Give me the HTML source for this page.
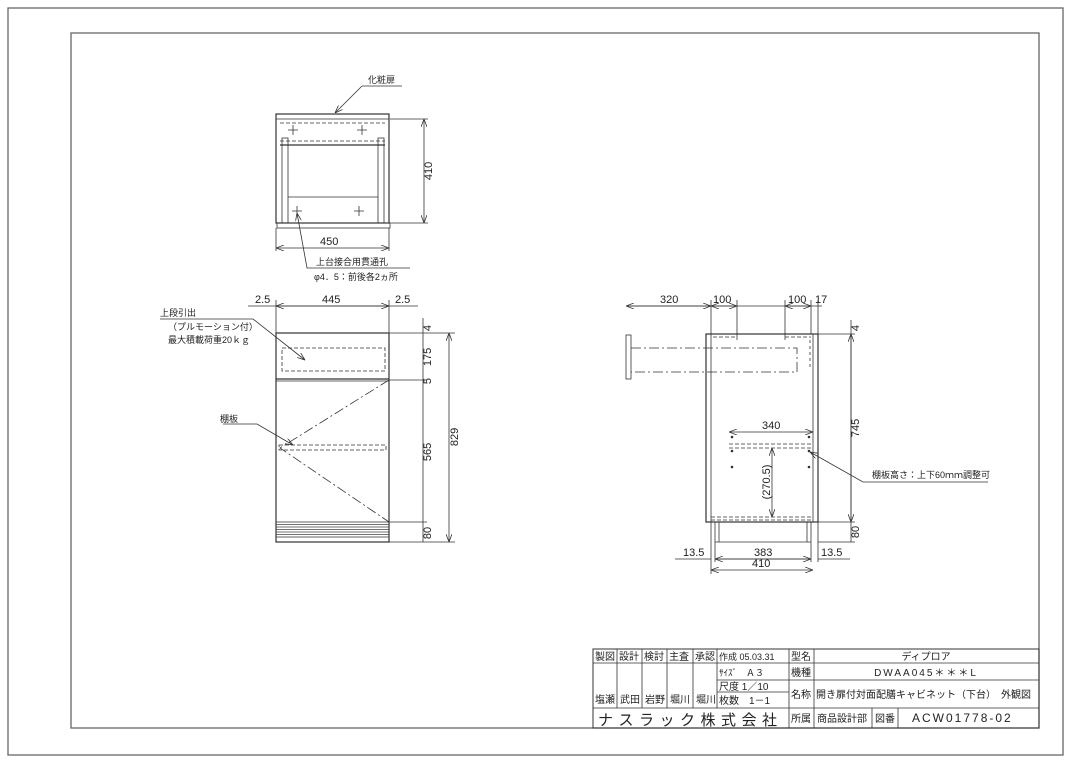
<!DOCTYPE html>
<html><head><meta charset="utf-8"><style>
html,body{margin:0;padding:0;background:#fff}
svg{display:block}
text{font-family:"Liberation Sans","Noto Sans CJK JP",sans-serif;fill:#222}
</style></head><body>
<svg width="1080" height="764" viewBox="0 0 1080 764" xmlns="http://www.w3.org/2000/svg">
<g fill="none" stroke="#666" stroke-width="1.3">
<rect x="8" y="8" width="1055" height="747"/>
<rect x="71" y="33" width="968" height="695"/>
</g>
<defs><marker id="a" markerWidth="8" markerHeight="6" refX="8" refY="3" orient="auto-start-reverse" markerUnits="userSpaceOnUse"><path d="M0,0 L8,3 L0,6" fill="none" stroke="#333" stroke-width="0.8"/></marker></defs>
<g stroke="#333" stroke-width="0.8" fill="none">
<!-- TOP VIEW -->
<rect x="276" y="114" width="113" height="109" stroke-width="1.2"/>
<line x1="276" y1="119" x2="389" y2="119"/>
<rect x="277" y="223" width="113" height="5"/>
<line x1="280" y1="123" x2="385" y2="123" stroke-dasharray="4,2"/>
<line x1="280" y1="141" x2="385" y2="141" stroke-dasharray="4,2"/>
<line x1="280" y1="145" x2="385" y2="145" stroke-width="1.2"/>
<rect x="282" y="138" width="6" height="85"/>
<rect x="378" y="138" width="6" height="85"/>
<line x1="288" y1="197" x2="378" y2="197"/>
<path d="M293,125v10M288,130h10M362,125v10M357,130h10M297,206v10M292,211h10M359,206v10M354,211h10"/>
<path d="M362,86H402M362,86L335,113" marker-end="url(#a)"/>
<path d="M410,268H307L297,213" marker-end="url(#a)"/>
<path d="M390,119H428M390,223H428M276,228V251M389,228V251"/>
<line x1="424" y1="119" x2="424" y2="223" marker-start="url(#a)" marker-end="url(#a)"/>
<line x1="276" y1="248" x2="389" y2="248" marker-start="url(#a)" marker-end="url(#a)"/>
<!-- FRONT VIEW -->
<rect x="276" y="333" width="113" height="209" stroke-width="1.2"/>
<line x1="276" y1="379" x2="389" y2="379" stroke-width="1.2"/>
<line x1="276" y1="381" x2="389" y2="381"/>
<line x1="276" y1="522" x2="389" y2="522"/>
<path d="M276,524.5H389M276,527H389M276,529.5H389M276,532H389M276,534.5H389" stroke-width="0.8" stroke="#444"/>
<line x1="276" y1="537" x2="389" y2="537"/>
<rect x="282" y="348" width="103" height="23" stroke-dasharray="4,2"/>
<rect x="279" y="445" width="107" height="5" stroke-dasharray="4,2"/>
<path d="M389,380L280,448L389,522" stroke-dasharray="10,3,2,3"/>
<path d="M248,306H418M276,300V333M389,300V333"/>
<line x1="276" y1="306" x2="389" y2="306" marker-start="url(#a)" marker-end="url(#a)"/>
<path d="M160,319H253L305,360" marker-end="url(#a)"/>
<path d="M223,424H257L293,445" marker-end="url(#a)"/>
<path d="M389,333H455M389,380H427M389,522H427M389,542H455"/>
<line x1="423" y1="318" x2="423" y2="542"/>
<line x1="449" y1="333" x2="449" y2="542" marker-start="url(#a)" marker-end="url(#a)"/>
<!-- SIDE VIEW -->
<rect x="706" y="334" width="112" height="188" stroke-width="1.2"/>
<line x1="711" y1="334" x2="711" y2="522"/>
<line x1="813" y1="334" x2="813" y2="522"/>
<path d="M715,522V542M719,522V542M807,522V542M811,522V542M715,542H811" />
<path d="M711,517H813M711,520H813" stroke-dasharray="4,2"/>
<path d="M713,337H737M785,337H811" stroke-dasharray="4,2"/>
<rect x="626" y="335" width="5" height="44"/>
<path d="M631,348H797V372H631" stroke-dasharray="10,3,2,3"/>
<path d="M729,444H813M729,448H813" stroke-dasharray="4,2"/>
<path d="M810,340V370" stroke-dasharray="3,3"/>
<path d="M626,306H822M711,300V334M737,300V340M785,300V340M811,300V334M818,300V334"/>
<line x1="626" y1="306" x2="711" y2="306" marker-start="url(#a)" marker-end="url(#a)"/>
<line x1="711" y1="306" x2="737" y2="306" marker-start="url(#a)" marker-end="url(#a)"/>
<line x1="785" y1="306" x2="811" y2="306" marker-start="url(#a)" marker-end="url(#a)"/>
<path d="M818,334H855M818,522H855M818,542H855"/>
<line x1="851" y1="320" x2="851" y2="542"/>
<line x1="851" y1="334" x2="851" y2="522" marker-start="url(#a)" marker-end="url(#a)"/>
<line x1="729" y1="432" x2="813" y2="432" marker-start="url(#a)" marker-end="url(#a)"/>
<line x1="772" y1="448" x2="772" y2="517" marker-start="url(#a)" marker-end="url(#a)"/>
<path d="M988,482H863L810,452" marker-end="url(#a)"/>
<path d="M711,522V574M715,542V562M811,542V562M818,522V562"/>
<path d="M675,559H711M715,559H811M818,559H850"/>
<line x1="715" y1="559" x2="811" y2="559" marker-start="url(#a)" marker-end="url(#a)"/>
<line x1="711" y1="570" x2="813" y2="570" marker-start="url(#a)" marker-end="url(#a)"/>
</g>
<g fill="#333"><circle cx="732" cy="437" r="1.3"/><circle cx="809" cy="437" r="1.3"/><circle cx="732" cy="451" r="1.3"/><circle cx="809" cy="451" r="1.3"/><circle cx="732" cy="467" r="1.3"/><circle cx="809" cy="467" r="1.3"/></g>
<g font-size="11">
<text x="368" y="83" font-size="9">化粧扉</text>
<text x="320" y="245">450</text>
<text transform="translate(432,171) rotate(-90)" text-anchor="middle">410</text>
<text x="316" y="265" font-size="9">上台接合用貫通孔</text>
<text x="314" y="280" font-size="9">φ4．5：前後各2ヵ所</text>
<text x="255" y="303">2.5</text><text x="322" y="303">445</text><text x="395" y="303">2.5</text>
<text x="160" y="316" font-size="9">上段引出</text>
<text x="168" y="330" font-size="9">（プルモーション付）</text>
<text x="168" y="343" font-size="9">最大積載荷重20ｋｇ</text>
<text x="220" y="422" font-size="9">棚板</text>
<text transform="translate(431,328) rotate(-90)" text-anchor="middle">4</text>
<text transform="translate(431,357) rotate(-90)" text-anchor="middle">175</text>
<text transform="translate(431,381) rotate(-90)" text-anchor="middle">5</text>
<text transform="translate(431,452) rotate(-90)" text-anchor="middle">565</text>
<text transform="translate(431,533) rotate(-90)" text-anchor="middle">80</text>
<text transform="translate(458,437) rotate(-90)" text-anchor="middle">829</text>
<text x="660" y="303">320</text><text x="713" y="303">100</text><text x="788" y="303">100</text><text x="815" y="303">17</text>
<text transform="translate(859,328) rotate(-90)" text-anchor="middle">4</text>
<text transform="translate(859,428) rotate(-90)" text-anchor="middle">745</text>
<text transform="translate(859,532) rotate(-90)" text-anchor="middle">80</text>
<text x="762" y="429">340</text>
<text transform="translate(770,482) rotate(-90)" text-anchor="middle">(270.5)</text>
<text x="872" y="478" font-size="9">棚板高さ：上下60ｍｍ調整可</text>
<text x="683" y="556">13.5</text><text x="754" y="556">383</text><text x="752" y="567">410</text><text x="821" y="556">13.5</text>
</g>
<!-- TITLE BLOCK -->
<g stroke="#333" stroke-width="0.8" fill="none">
<rect x="593" y="649" width="446" height="79" stroke-width="1"/>
<path d="M593,663H810M593,708H1039M717,680H1039M717,692H789M789,663H1039"/>
<path d="M617,649V708M642,649V708M667,649V708M693,649V708M717,649V708M789,649V728M814,649V708M814,708V728M872,708V728M898,708V728"/>
</g>
<g font-size="10">
<text x="595" y="660">製図</text><text x="619" y="660">設計</text><text x="644" y="660">検討</text><text x="669" y="660">主査</text><text x="695" y="660">承認</text>
<text x="719" y="660" font-size="9">作成 05.03.31</text>
<text x="719" y="676" font-size="9">ｻｲｽﾞ　Ａ３</text>
<text x="719" y="690">尺度 1／10</text>
<text x="719" y="704">枚数　1－1</text>
<text x="595" y="703">塩瀬</text><text x="620" y="703">武田</text><text x="645" y="703">岩野</text><text x="670" y="703">堀川</text><text x="696" y="703">堀川</text>
<text x="598" y="725" font-size="15" letter-spacing="5.5">ナスラック株式会社</text>
<text x="791" y="660">型名</text><text x="791" y="676">機種</text><text x="791" y="698">名称</text><text x="791" y="722">所属</text>
<text x="926" y="660" text-anchor="middle">ディプロア</text>
<text x="926" y="676" text-anchor="middle" letter-spacing="2">DWAA045＊＊＊L</text>
<text x="816" y="698">開き扉付対面配膳キャビネット（下台）　外観図</text>
<text x="817" y="722">商品設計部</text>
<text x="875" y="722">図番</text>
<text x="912" y="722" font-size="12" letter-spacing="2">ACW01778-02</text>
</g>
</svg>
</body></html>
